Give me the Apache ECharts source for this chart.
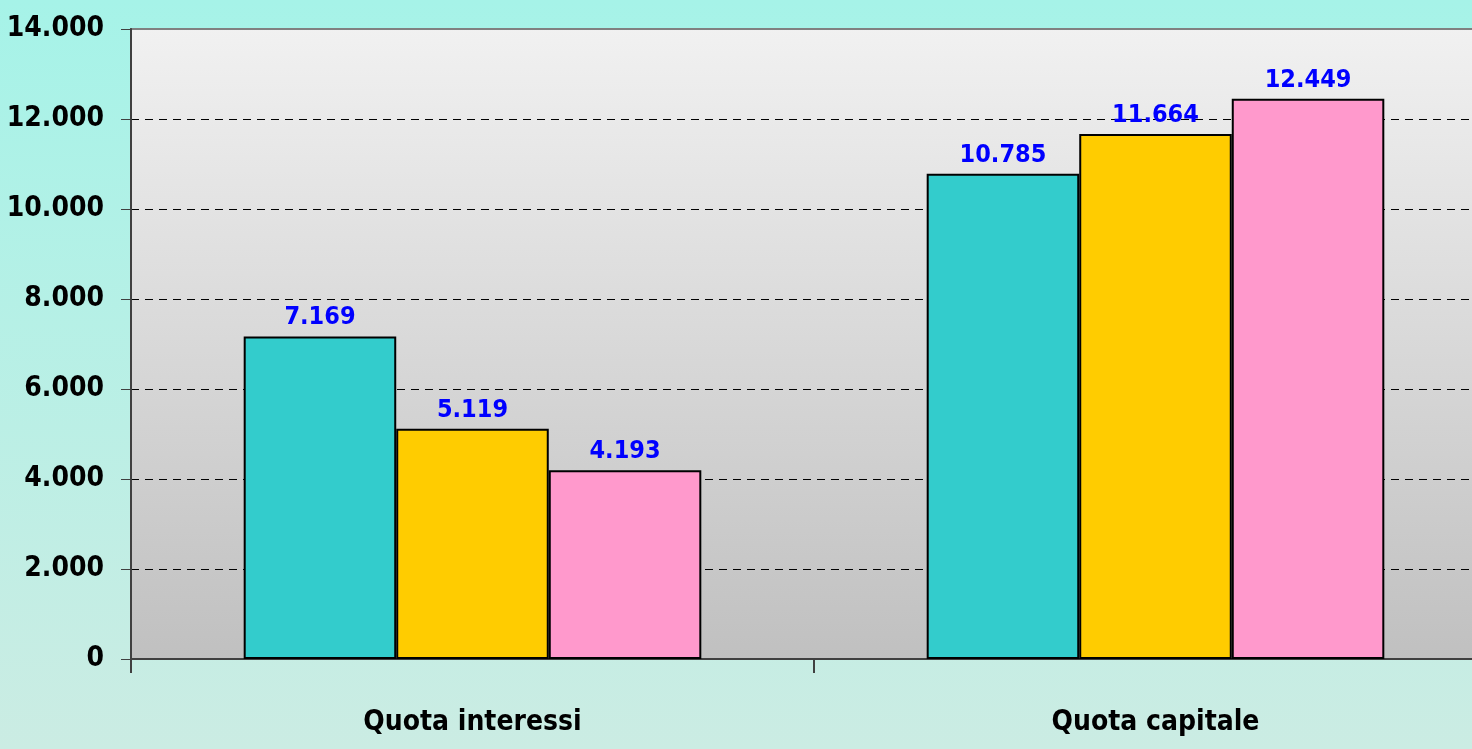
<!DOCTYPE html>
<html>
<head>
<meta charset="utf-8">
<script src="https://cdn.jsdelivr.net/npm/echarts@6/dist/echarts.min.js"></script>
<style>
  html, body { margin: 0; padding: 0; }
  #main { width: 1472px; height: 749px; }
</style>
</head>
<body>
<div id="main"></div>
<script>
const categories = ["Quota interessi", "Quota capitale"];
const serie1 = [7169, 10785];
const serie2 = [5119, 11664];
const serie3 = [4193, 12449];
const barColors = ["#33CCCC", "#FFCC00", "#FF99CC"];

const font = '"Liberation Sans Narrow", "DejaVu Sans Condensed", Arial, sans-serif';

// formato italiano: 14.000
function fmt(v) {
  return String(Math.round(v)).replace(/\B(?=(\d{3})+(?!\d))/g, ".");
}

function bar(data, color) {
  return {
    type: "bar",
    data: data,
    barGap: "0%",
    barCategoryGap: "33%",
    itemStyle: { color: color, borderColor: "#000", borderWidth: 2 },
    label: {
      show: true,
      position: "top",
      distance: 6,
      color: "#0000FF",
      fontFamily: font,
      fontWeight: "bold",
      fontSize: 25,
      formatter: (p) => fmt(p.value),
    },
  };
}

const chart = echarts.init(document.getElementById("main"));
chart.setOption({
  animation: false,
  backgroundColor: new echarts.graphic.LinearGradient(0, 0, 0, 1, [
    { offset: 0, color: "#A6F3E8" },
    { offset: 1, color: "#CBECE3" },
  ]),
  grid: {
    left: 131,
    top: 29,
    height: 630,
    width: 1366,
    containLabel: false,
    outerBoundsMode: "none",
    show: true,
    borderColor: "#808080",
    borderWidth: 2,
    backgroundColor: new echarts.graphic.LinearGradient(0, 0, 0, 1, [
      { offset: 0, color: "#F1F1F1" },
      { offset: 1, color: "#C0C0C0" },
    ]),
  },
  xAxis: {
    type: "category",
    data: categories,
    axisLine: { lineStyle: { color: "#404040", width: 2 } },
    axisTick: { show: true, length: 14, lineStyle: { color: "#404040", width: 2 } },
    axisLabel: {
      color: "#000",
      fontFamily: font,
      fontWeight: "bold",
      fontSize: 28,
      margin: 50,
    },
  },
  yAxis: {
    type: "value",
    min: 0,
    max: 14000,
    interval: 2000,
    axisLine: { show: true, lineStyle: { color: "#404040", width: 2 } },
    axisTick: { show: true, length: 10, lineStyle: { color: "#404040", width: 1 } },
    axisLabel: {
      color: "#000",
      fontFamily: font,
      fontWeight: "bold",
      fontSize: 28,
      margin: 27,
      formatter: fmt,
    },
    splitLine: {
      show: true,
      lineStyle: {
        color: ["transparent", "#000", "#000", "#000", "#000", "#000", "#000", "transparent"],
        type: [8, 6],
        width: 1,
      },
    },
  },
  series: [
    bar(serie1, barColors[0]),
    bar(serie2, barColors[1]),
    bar(serie3, barColors[2]),
  ],
});
</script>
</body>
</html>
